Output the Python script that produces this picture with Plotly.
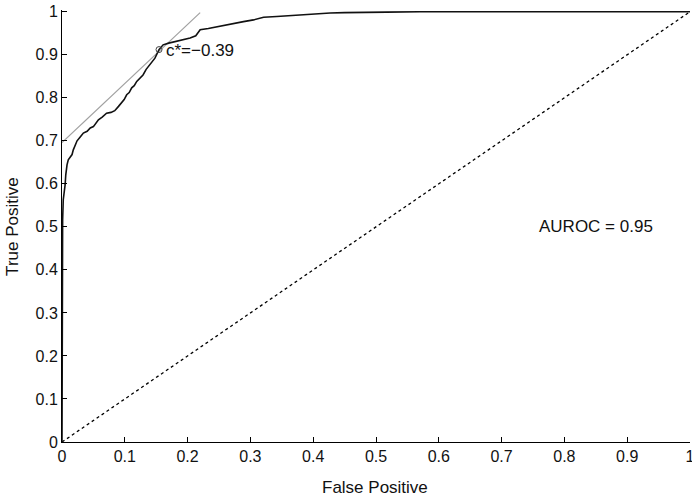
import plotly.graph_objects as go

# ROC curve values
fpr = [0, 0, 0.001, 0.002, 0.004, 0.005, 0.006, 0.007, 0.008, 0.010, 0.013, 0.016, 0.018,
       0.021, 0.024, 0.029, 0.034, 0.040, 0.045, 0.050, 0.053, 0.058, 0.064, 0.071, 0.078,
       0.084, 0.090, 0.095, 0.099, 0.103, 0.107, 0.111, 0.115, 0.119, 0.124, 0.129, 0.134,
       0.140, 0.145, 0.148, 0.1545, 0.161, 0.170, 0.183, 0.193, 0.204, 0.213, 0.220, 0.233,
       0.246, 0.257, 0.268, 0.279, 0.289, 0.305, 0.321, 0.342, 0.360, 0.379, 0.405, 0.427,
       0.450, 0.475, 0.517, 0.570, 1.0]
tpr = [0, 0.453, 0.516, 0.563, 0.585, 0.598, 0.621, 0.635, 0.644, 0.656, 0.663, 0.668, 0.679,
       0.690, 0.700, 0.709, 0.718, 0.722, 0.730, 0.733, 0.740, 0.749, 0.755, 0.764, 0.766,
       0.770, 0.780, 0.788, 0.796, 0.807, 0.812, 0.823, 0.828, 0.838, 0.845, 0.853, 0.866,
       0.877, 0.884, 0.892, 0.912, 0.923, 0.927, 0.931, 0.935, 0.939, 0.944, 0.958, 0.961,
       0.965, 0.968, 0.971, 0.975, 0.977, 0.981, 0.987, 0.989, 0.991, 0.993, 0.995, 0.997,
       0.998, 0.998, 0.999, 1.0, 1.0]

chance_x = [0, 1]
chance_y = [0, 1]

tangent_x = [0, 0.22]
tangent_y = [0.696, 0.998]

cut_x = [0.1545]
cut_y = [0.912]
cut_label = "c*=\u22120.39"
auroc_label = "AUROC = 0.95"
x_title = "False Positive"
y_title = "True Positive"

ticks = [0, 0.1, 0.2, 0.3, 0.4, 0.5, 0.6, 0.7, 0.8, 0.9, 1]
tick_text = ["0", "0.1", "0.2", "0.3", "0.4", "0.5", "0.6", "0.7", "0.8", "0.9", "1"]

font = "Liberation Sans, Arial, Helvetica, sans-serif"
txt = "#111111"

fig = go.Figure()
fig.add_trace(go.Scatter(x=chance_x, y=chance_y, mode="lines",
                         line=dict(color="black", width=1.3, dash="3px,3px"),
                         hoverinfo="skip"))
fig.add_trace(go.Scatter(x=tangent_x, y=tangent_y, mode="lines",
                         line=dict(color="#a0a0a0", width=1.2), hoverinfo="skip"))
fig.add_trace(go.Scatter(x=fpr, y=tpr, mode="lines",
                         line=dict(color="#111111", width=1.6), hoverinfo="skip"))
fig.add_trace(go.Scatter(x=cut_x, y=cut_y, mode="markers",
                         marker=dict(symbol="circle-open", size=6, color="#444444",
                                     line=dict(width=1)),
                         cliponaxis=False, hoverinfo="skip"))

fig.add_annotation(x=cut_x[0], y=cut_y[0], text=cut_label, showarrow=False,
                   xanchor="left", yanchor="middle", xshift=5, yshift=-1,
                   font=dict(family=font, size=17, color=txt))
fig.add_annotation(x=0.756, y=0.5, text=auroc_label, showarrow=False,
                   xanchor="left", yanchor="middle",
                   font=dict(family=font, size=17, color=txt))
fig.add_annotation(x=0.498, y=-0.106, xref="x", yref="paper", text=x_title,
                   showarrow=False, xanchor="center", yanchor="middle",
                   font=dict(family=font, size=17, color=txt))
fig.add_annotation(x=-0.078, y=0.5, xref="paper", yref="y", text=y_title,
                   showarrow=False, xanchor="center", yanchor="middle", textangle=-90,
                   font=dict(family=font, size=17, color=txt))

axis_common = dict(
    tickmode="array", tickvals=ticks, ticktext=tick_text,
    ticks="inside", ticklen=5, tickwidth=1, tickcolor="black",
    showline=True, linecolor="black", linewidth=1, mirror=False,
    showgrid=False, zeroline=False, automargin=False,
    ticklabeloverflow="allow",
    tickfont=dict(family=font, size=16, color=txt),
)

fig.update_xaxes(range=[0, 1.0], **axis_common)
fig.update_yaxes(range=[0, 1.004], **axis_common)

fig.update_layout(
    width=692, height=499,
    margin=dict(l=62, r=2, t=10, b=57),
    paper_bgcolor="white", plot_bgcolor="white",
    showlegend=False,
    font=dict(family=font, size=16, color=txt),
)

# remove the browser's default 8px body margin so the figure fills the window
fig.write_html("out.html", config={"displayModeBar": False},
               post_script="document.body.style.margin='0';")
